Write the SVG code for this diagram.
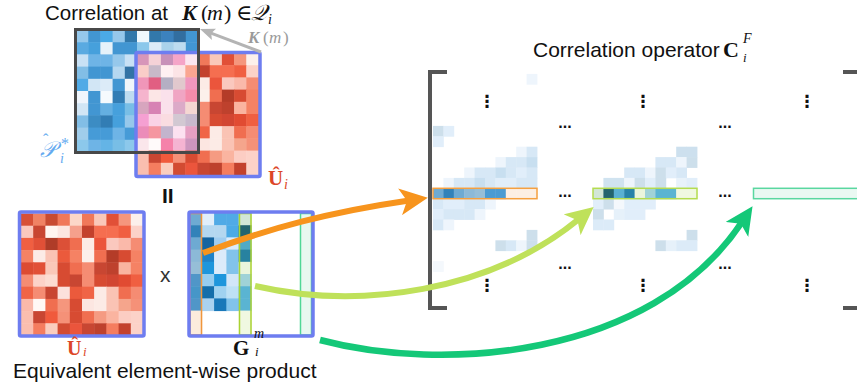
<svg xmlns="http://www.w3.org/2000/svg" width="857" height="387" viewBox="0 0 857 387">
<style>
.cell rect{width:1.04px;height:1.04px}
.sans{font-family:"Liberation Sans",Arial,sans-serif}
.math{font-family:"Liberation Serif","DejaVu Serif",serif}
.dots{font-family:"Liberation Sans",Arial,sans-serif;font-size:16px;font-weight:bold;text-anchor:middle;fill:#111}
.vdots{font-family:"DejaVu Sans",sans-serif;font-size:17px;font-weight:bold;text-anchor:middle;fill:#111}
.arrow{fill:none;stroke-linecap:butt}
</style>
<defs>
<marker id="hOrange" viewBox="0 0 28 27" refX="9" refY="13.5" markerWidth="28" markerHeight="27" markerUnits="userSpaceOnUse" orient="auto"><path d="M0,0 L28,13.5 L0,27 L7,13.5 z" fill="#f7941d"/></marker>
<marker id="hLime" viewBox="0 0 28 27" refX="9" refY="13.5" markerWidth="28" markerHeight="27" markerUnits="userSpaceOnUse" orient="auto"><path d="M0,0 L28,13.5 L0,27 L7,13.5 z" fill="#bfe15a"/></marker>
<marker id="hGreen" viewBox="0 0 28 27" refX="9" refY="13.5" markerWidth="28" markerHeight="27" markerUnits="userSpaceOnUse" orient="auto"><path d="M0,0 L28,13.5 L0,27 L7,13.5 z" fill="#14c878"/></marker>
<marker id="hGray" viewBox="0 0 15 12" refX="4" refY="6" markerWidth="15" markerHeight="12" markerUnits="userSpaceOnUse" orient="auto"><path d="M0,0 L15,6 L0,12 L3,6 z" fill="#b4b4b4"/></marker>
</defs>

<g id="title">
<text class="sans" x="45" y="20" font-size="20.5" fill="#111">Correlation at</text>
<text class="math" y="20" font-size="22" fill="#111"><tspan x="182" font-weight="bold" font-style="italic">K</tspan><tspan x="201">(</tspan><tspan x="207" font-style="italic">m</tspan><tspan x="224">)</tspan><tspan x="236">∈</tspan><tspan x="251" font-style="italic">𝒬</tspan><tspan x="268" dy="4" font-size="14" font-style="italic">i</tspan></text>
</g>

<g id="matrix-P">
<g class="cell" transform="translate(76,30) scale(12.2)">
<rect x="0" y="0" fill="#96c8eb"/><rect x="1" y="0" fill="#4296d2"/><rect x="2" y="0" fill="#4baae6"/><rect x="3" y="0" fill="#96c8eb"/><rect x="4" y="0" fill="#3278aa"/><rect x="5" y="0" fill="#f0f8fc"/><rect x="6" y="0" fill="#3278aa"/><rect x="7" y="0" fill="#3c82be"/><rect x="8" y="0" fill="#326ea0"/><rect x="9" y="0" fill="#4296d2"/>
<rect x="0" y="1" fill="#5aaae1"/><rect x="1" y="1" fill="#46a0dc"/><rect x="2" y="1" fill="#e6f2fa"/><rect x="3" y="1" fill="#4296d2"/><rect x="4" y="1" fill="#4296d2"/><rect x="5" y="1" fill="#8cc8eb"/><rect x="6" y="1" fill="#dcebf8"/><rect x="7" y="1" fill="#aad2eb"/><rect x="8" y="1" fill="#bedcf0"/><rect x="9" y="1" fill="#4296d2"/>
<rect x="0" y="2" fill="#c8e1f5"/><rect x="1" y="2" fill="#6eb4e6"/><rect x="2" y="2" fill="#6eb4e6"/><rect x="3" y="2" fill="#96c8eb"/><rect x="4" y="2" fill="#c8e1f5"/>
<rect x="0" y="3" fill="#82bee6"/><rect x="1" y="3" fill="#4296d2"/><rect x="2" y="3" fill="#4296d2"/><rect x="3" y="3" fill="#b4d7f0"/><rect x="4" y="3" fill="#3273a5"/>
<rect x="0" y="4" fill="#50aae6"/><rect x="1" y="4" fill="#d2e6f5"/><rect x="2" y="4" fill="#dcebf8"/><rect x="3" y="4" fill="#4296d2"/><rect x="4" y="4" fill="#f0f5fa"/>
<rect x="0" y="5" fill="#f0f5fc"/><rect x="1" y="5" fill="#4296d2"/><rect x="2" y="5" fill="#f5fafd"/><rect x="3" y="5" fill="#327db4"/><rect x="4" y="5" fill="#bedcf0"/>
<rect x="0" y="6" fill="#d2e6f5"/><rect x="1" y="6" fill="#4296d2"/><rect x="2" y="6" fill="#64afe1"/><rect x="3" y="6" fill="#46a0dc"/><rect x="4" y="6" fill="#78bee6"/>
<rect x="0" y="7" fill="#82bee6"/><rect x="1" y="7" fill="#3c8cc3"/><rect x="2" y="7" fill="#327db4"/><rect x="3" y="7" fill="#46a0dc"/><rect x="4" y="7" fill="#96c8eb"/>
<rect x="0" y="8" fill="#a0cdeb"/><rect x="1" y="8" fill="#469bd7"/><rect x="2" y="8" fill="#469bd7"/><rect x="3" y="8" fill="#6eb4e6"/><rect x="4" y="8" fill="#469bd7"/>
<rect x="0" y="9" fill="#8cc8eb"/><rect x="1" y="9" fill="#6eb4e6"/><rect x="2" y="9" fill="#64b4e6"/><rect x="3" y="9" fill="#78bee6"/><rect x="4" y="9" fill="#8cc8eb"/>
</g>
</g>

<g id="matrix-U-top">
<g class="cell" transform="translate(136.5,53) scale(12.2)">
<rect x="0" y="0" fill="#d796b9"/><rect x="1" y="0" fill="#f5d2d7"/><rect x="2" y="0" fill="#c891b9"/><rect x="3" y="0" fill="#f5a5c8"/><rect x="4" y="0" fill="#fce6f0"/><rect x="5" y="0" fill="#f0785a"/><rect x="6" y="0" fill="#fac8b9"/><rect x="7" y="0" fill="#e15037"/><rect x="8" y="0" fill="#f5967d"/><rect x="9" y="0" fill="#fcf0eb"/>
<rect x="0" y="1" fill="#facdc8"/><rect x="1" y="1" fill="#c8b9c8"/><rect x="2" y="1" fill="#fff0f2"/><rect x="3" y="1" fill="#fce4e6"/><rect x="4" y="1" fill="#faa591"/><rect x="5" y="1" fill="#c3412d"/><rect x="6" y="1" fill="#f56e50"/><rect x="7" y="1" fill="#f56e50"/><rect x="8" y="1" fill="#f05f41"/><rect x="9" y="1" fill="#fcd2c8"/>
<rect x="0" y="2" fill="#f096b9"/><rect x="1" y="2" fill="#e15f82"/><rect x="2" y="2" fill="#b4afc3"/><rect x="3" y="2" fill="#e1c8cd"/><rect x="4" y="2" fill="#f096be"/><rect x="5" y="2" fill="#fcebe6"/><rect x="6" y="2" fill="#eb553c"/><rect x="7" y="2" fill="#fac8be"/><rect x="8" y="2" fill="#fab9aa"/><rect x="9" y="2" fill="#f58c73"/>
<rect x="0" y="3" fill="#f5b4cd"/><rect x="1" y="3" fill="#fce6e6"/><rect x="2" y="3" fill="#fae1eb"/><rect x="3" y="3" fill="#f0a5c3"/><rect x="4" y="3" fill="#f58caa"/><rect x="5" y="3" fill="#fcf0eb"/><rect x="6" y="3" fill="#f06e50"/><rect x="7" y="3" fill="#b43c28"/><rect x="8" y="3" fill="#d74b32"/><rect x="9" y="3" fill="#f58264"/>
<rect x="0" y="4" fill="#d7a5be"/><rect x="1" y="4" fill="#d782b4"/><rect x="2" y="4" fill="#fae1eb"/><rect x="3" y="4" fill="#dcaac8"/><rect x="4" y="4" fill="#f5d7d2"/><rect x="5" y="4" fill="#f58c73"/><rect x="6" y="4" fill="#c84632"/><rect x="7" y="4" fill="#be412d"/><rect x="8" y="4" fill="#fab4a0"/><rect x="9" y="4" fill="#f58264"/>
<rect x="0" y="5" fill="#f5a0d2"/><rect x="1" y="5" fill="#fad2e6"/><rect x="2" y="5" fill="#fadce1"/><rect x="3" y="5" fill="#d2c8d2"/><rect x="4" y="5" fill="#c8b9cd"/><rect x="5" y="5" fill="#f58c73"/><rect x="6" y="5" fill="#d74b32"/><rect x="7" y="5" fill="#d24632"/><rect x="8" y="5" fill="#e14b32"/><rect x="9" y="5" fill="#f05f41"/>
<rect x="0" y="6" fill="#eb8cb9"/><rect x="1" y="6" fill="#f596a0"/><rect x="2" y="6" fill="#c3b4cd"/><rect x="3" y="6" fill="#fce1f0"/><rect x="4" y="6" fill="#e6a0c3"/><rect x="5" y="6" fill="#f06446"/><rect x="6" y="6" fill="#fcebe6"/><rect x="7" y="6" fill="#fac3b4"/><rect x="8" y="6" fill="#f06e50"/><rect x="9" y="6" fill="#f58c73"/>
<rect x="0" y="7" fill="#fae6eb"/><rect x="1" y="7" fill="#fffafa"/><rect x="2" y="7" fill="#f582aa"/><rect x="3" y="7" fill="#f5b4d2"/><rect x="4" y="7" fill="#cd96be"/><rect x="5" y="7" fill="#fce6e1"/><rect x="6" y="7" fill="#fcebe6"/><rect x="7" y="7" fill="#fac3b4"/><rect x="8" y="7" fill="#f5a58c"/><rect x="9" y="7" fill="#f59178"/>
<rect x="0" y="8" fill="#fabeaf"/><rect x="1" y="8" fill="#c84632"/><rect x="2" y="8" fill="#f05a3c"/><rect x="3" y="8" fill="#f59178"/><rect x="4" y="8" fill="#d74b32"/><rect x="5" y="8" fill="#f06e50"/><rect x="6" y="8" fill="#f59b82"/><rect x="7" y="8" fill="#fab4a0"/><rect x="8" y="8" fill="#fccdc3"/><rect x="9" y="8" fill="#fcd2c8"/>
<rect x="0" y="9" fill="#fabeaf"/><rect x="1" y="9" fill="#f57d5f"/><rect x="2" y="9" fill="#facdbe"/><rect x="3" y="9" fill="#d24b32"/><rect x="4" y="9" fill="#eb553c"/><rect x="5" y="9" fill="#c84632"/><rect x="6" y="9" fill="#be412d"/><rect x="7" y="9" fill="#f57d5f"/><rect x="8" y="9" fill="#c3412d"/><rect x="9" y="9" fill="#fcd2c8"/>
</g>
<rect x="136" y="52.5" width="124" height="124" rx="1.5" fill="none" stroke="#6e7df0" stroke-width="3.5"/>
<rect x="75.5" y="29.5" width="123" height="123" fill="none" stroke="#484848" stroke-width="3"/>
</g>

<g id="labels-top">
<text class="math" font-size="22" fill="#64aaf0"><tspan x="40" y="157" font-style="italic">𝒫</tspan><tspan x="60" y="163" font-size="14" font-style="italic">i</tspan><tspan x="61" y="149" font-size="16">*</tspan></text>
<text class="math" x="43" y="145" font-size="16" fill="#64aaf0">ˆ</text>
<text class="math" font-size="21" fill="#dc4628"><tspan x="268" y="185" font-weight="bold">Û</tspan><tspan x="284" y="189" font-size="14" font-style="italic">i</tspan></text>
<text class="math" font-size="17" fill="#9a9a9a" y="43"><tspan x="248" font-weight="bold" font-style="italic">K</tspan><tspan x="263">(</tspan><tspan x="269" font-style="italic">m</tspan><tspan x="283">)</tspan></text>
<text class="sans" x="162" y="203" font-size="21" font-weight="bold" fill="#111">II</text>
</g>

<g id="matrix-U">
<g class="cell" transform="translate(21,213.5) scale(12.2)">
<rect x="0" y="0" fill="#d75037"/><rect x="1" y="0" fill="#f08264"/><rect x="2" y="0" fill="#c84b32"/><rect x="3" y="0" fill="#f0785a"/><rect x="4" y="0" fill="#fcd7c8"/><rect x="5" y="0" fill="#f0785a"/><rect x="6" y="0" fill="#fac8b9"/><rect x="7" y="0" fill="#e15037"/><rect x="8" y="0" fill="#f5967d"/><rect x="9" y="0" fill="#fcf0eb"/>
<rect x="0" y="1" fill="#fac8be"/><rect x="1" y="1" fill="#c84632"/><rect x="2" y="1" fill="#fff5f0"/><rect x="3" y="1" fill="#fce6e1"/><rect x="4" y="1" fill="#f5a08c"/><rect x="5" y="1" fill="#c3412d"/><rect x="6" y="1" fill="#f56e50"/><rect x="7" y="1" fill="#f56e50"/><rect x="8" y="1" fill="#f05f41"/><rect x="9" y="1" fill="#fcd2c8"/>
<rect x="0" y="2" fill="#f05f41"/><rect x="1" y="2" fill="#e15037"/><rect x="2" y="2" fill="#af3c28"/><rect x="3" y="2" fill="#dc5037"/><rect x="4" y="2" fill="#f06e50"/><rect x="5" y="2" fill="#fcebe6"/><rect x="6" y="2" fill="#eb553c"/><rect x="7" y="2" fill="#fac8be"/><rect x="8" y="2" fill="#fab9aa"/><rect x="9" y="2" fill="#f58c73"/>
<rect x="0" y="3" fill="#f58264"/><rect x="1" y="3" fill="#fcebe6"/><rect x="2" y="3" fill="#fac3b4"/><rect x="3" y="3" fill="#eb5a3c"/><rect x="4" y="3" fill="#f58264"/><rect x="5" y="3" fill="#fcf0eb"/><rect x="6" y="3" fill="#f06e50"/><rect x="7" y="3" fill="#b43c28"/><rect x="8" y="3" fill="#d74b32"/><rect x="9" y="3" fill="#f58264"/>
<rect x="0" y="4" fill="#dc4b32"/><rect x="1" y="4" fill="#e15037"/><rect x="2" y="4" fill="#fac8b9"/><rect x="3" y="4" fill="#d74b32"/><rect x="4" y="4" fill="#f06e50"/><rect x="5" y="4" fill="#f58c73"/><rect x="6" y="4" fill="#c84632"/><rect x="7" y="4" fill="#be412d"/><rect x="8" y="4" fill="#fab4a0"/><rect x="9" y="4" fill="#f58264"/>
<rect x="0" y="5" fill="#f58c73"/><rect x="1" y="5" fill="#fcd2c8"/><rect x="2" y="5" fill="#fcdcd2"/><rect x="3" y="5" fill="#d74b32"/><rect x="4" y="5" fill="#c84632"/><rect x="5" y="5" fill="#f58c73"/><rect x="6" y="5" fill="#d74b32"/><rect x="7" y="5" fill="#d24632"/><rect x="8" y="5" fill="#e14b32"/><rect x="9" y="5" fill="#f05f41"/>
<rect x="0" y="6" fill="#f06446"/><rect x="1" y="6" fill="#f58c73"/><rect x="2" y="6" fill="#c84632"/><rect x="3" y="6" fill="#fce1dc"/><rect x="4" y="6" fill="#eb5a3c"/><rect x="5" y="6" fill="#f06446"/><rect x="6" y="6" fill="#fcebe6"/><rect x="7" y="6" fill="#fac3b4"/><rect x="8" y="6" fill="#f06e50"/><rect x="9" y="6" fill="#f58c73"/>
<rect x="0" y="7" fill="#fab9aa"/><rect x="1" y="7" fill="#fff8f5"/><rect x="2" y="7" fill="#f06e50"/><rect x="3" y="7" fill="#f5967d"/><rect x="4" y="7" fill="#d74b32"/><rect x="5" y="7" fill="#fce6e1"/><rect x="6" y="7" fill="#fcebe6"/><rect x="7" y="7" fill="#fac3b4"/><rect x="8" y="7" fill="#f5a58c"/><rect x="9" y="7" fill="#f59178"/>
<rect x="0" y="8" fill="#fabeaf"/><rect x="1" y="8" fill="#c84632"/><rect x="2" y="8" fill="#f05a3c"/><rect x="3" y="8" fill="#f59178"/><rect x="4" y="8" fill="#d74b32"/><rect x="5" y="8" fill="#f06e50"/><rect x="6" y="8" fill="#f59b82"/><rect x="7" y="8" fill="#fab4a0"/><rect x="8" y="8" fill="#fccdc3"/><rect x="9" y="8" fill="#fcd2c8"/>
<rect x="0" y="9" fill="#fabeaf"/><rect x="1" y="9" fill="#f57d5f"/><rect x="2" y="9" fill="#facdbe"/><rect x="3" y="9" fill="#d24b32"/><rect x="4" y="9" fill="#eb553c"/><rect x="5" y="9" fill="#c84632"/><rect x="6" y="9" fill="#be412d"/><rect x="7" y="9" fill="#f57d5f"/><rect x="8" y="9" fill="#c3412d"/><rect x="9" y="9" fill="#fcd2c8"/>
</g>
<rect x="19.5" y="212" width="124.5" height="124" rx="1.5" fill="none" stroke="#6e7df0" stroke-width="3.5"/>
<text class="math" font-size="20" fill="#dc4628"><tspan x="67" y="355" font-weight="bold">Û</tspan><tspan x="83" y="356" font-size="13" font-style="italic">i</tspan></text>
</g>

<text id="times" class="sans" x="160" y="282" font-size="21" fill="#333">x</text>

<g id="matrix-G">
<g class="cell" transform="translate(189.5,213) scale(12.3,12.2)">
<rect x="0" y="0" fill="#6eaad2"/><rect x="0" y="1" fill="#3282b9"/><rect x="0" y="2" fill="#6eaad2"/><rect x="0" y="3" fill="#8cb9d7"/><rect x="0" y="4" fill="#96bed7"/><rect x="0" y="5" fill="#5096c8"/><rect x="0" y="6" fill="#4696c8"/><rect x="0" y="7" fill="#5096c8"/><rect x="0" y="8" fill="#fcebdc"/><rect x="0" y="9" fill="#fcebdc"/>
<rect x="1" y="0" fill="#e1eefa"/><rect x="1" y="1" fill="#b4d7f0"/><rect x="1" y="2" fill="#1464a0"/><rect x="1" y="3" fill="#1e82c8"/><rect x="1" y="4" fill="#1e96dc"/><rect x="1" y="5" fill="#96cdf0"/><rect x="1" y="6" fill="#146eaa"/><rect x="1" y="7" fill="#aad2f0"/>
<rect x="2" y="0" fill="#50aae6"/><rect x="2" y="1" fill="#b4d7f0"/><rect x="2" y="2" fill="#a0cdf0"/><rect x="2" y="3" fill="#dcebfa"/><rect x="2" y="4" fill="#dcebfa"/><rect x="2" y="5" fill="#1e96dc"/><rect x="2" y="6" fill="#a0d2f0"/><rect x="2" y="7" fill="#1978b9"/>
<rect x="3" y="0" fill="#50aae6"/><rect x="3" y="1" fill="#4baae6"/><rect x="3" y="2" fill="#dcebfa"/><rect x="3" y="3" fill="#82c3eb"/><rect x="3" y="4" fill="#82c3eb"/><rect x="3" y="5" fill="#d2e6f8"/><rect x="3" y="6" fill="#bee1f5"/><rect x="3" y="7" fill="#82c3eb"/>
<rect x="4" y="0" fill="#d2e6d7"/><rect x="4" y="1" fill="#23646e"/><rect x="4" y="2" fill="#50aac8"/><rect x="4" y="3" fill="#2882a0"/><rect x="4" y="4" fill="#ebf5dc"/><rect x="4" y="5" fill="#a0d2d7"/><rect x="4" y="6" fill="#5ab4d2"/><rect x="4" y="7" fill="#5ab4d2"/><rect x="4" y="8" fill="#f0f8e1"/><rect x="4" y="9" fill="#f0f8e1"/>
</g>
<rect x="190" y="213.5" width="11.5" height="121.5" fill="none" stroke="#f0963c" stroke-width="1.5"/>
<rect x="239.5" y="213.5" width="11.5" height="121.5" fill="none" stroke="#aad232" stroke-width="1.5"/>
<rect x="300.5" y="213.5" width="11" height="121.5" fill="#e8f8f0" stroke="#50d796" stroke-width="1.5"/>
<rect x="189" y="212" width="124" height="124" rx="1.5" fill="none" stroke="#6e7df0" stroke-width="3.5"/>
<text class="math" font-size="21" fill="#111"><tspan x="233" y="355" font-weight="bold">G</tspan><tspan x="254" y="338" font-size="14" font-style="italic">m</tspan><tspan x="255" y="356" font-size="13" font-style="italic">i</tspan></text>
</g>

<text id="caption" class="sans" x="13" y="378" font-size="21" fill="#111">Equivalent element-wise product</text>

<g id="operator">
<text class="sans" x="533" y="57" font-size="21" fill="#111">Correlation operator</text>
<text class="math" font-size="22" fill="#111"><tspan x="723" y="57" font-weight="bold">C</tspan><tspan x="743" y="43" font-size="14" font-style="italic">F</tspan><tspan x="743" y="62" font-size="13" font-style="italic">i</tspan></text>
<path d="M447,72 L430,72 L430,308 L447,308" fill="none" stroke="#555" stroke-width="4"/>
<path d="M843,72 L859,72 L859,308 L843,308" fill="none" stroke="#555" stroke-width="4"/>
<g class="cell" transform="translate(433,188.3) scale(10.4)">
<rect x="9" y="-11" fill="#eef5fc"/>
<rect x="0" y="-6" fill="#cddfeb"/><rect x="1" y="-6" fill="#e1eefa"/>
<rect x="0" y="-5" fill="#e1eefa"/>
<rect x="8" y="-4" fill="#eef5fc"/><rect x="9" y="-4" fill="#d7e8f6"/>
<rect x="6" y="-3" fill="#eef5fc"/><rect x="7" y="-3" fill="#d7e8f6"/><rect x="8" y="-3" fill="#d7e8f6"/><rect x="9" y="-3" fill="#c8dff0"/>
<rect x="3" y="-2" fill="#eef5fc"/><rect x="4" y="-2" fill="#d7e8f6"/><rect x="5" y="-2" fill="#d7e8f6"/><rect x="6" y="-2" fill="#c8dff0"/><rect x="7" y="-2" fill="#d7e8f6"/><rect x="8" y="-2" fill="#e1eefa"/><rect x="9" y="-2" fill="#d7e8f6"/>
<rect x="1" y="-1" fill="#eef5fc"/><rect x="2" y="-1" fill="#d7e8f6"/><rect x="3" y="-1" fill="#d7e8f6"/><rect x="4" y="-1" fill="#c8dff0"/><rect x="5" y="-1" fill="#d7e8f6"/><rect x="6" y="-1" fill="#e1eefa"/><rect x="7" y="-1" fill="#e1eefa"/><rect x="8" y="-1" fill="#d7e8f6"/><rect x="9" y="-1" fill="#d7e8f6"/>
<rect x="0" y="0" fill="#6eaad2"/><rect x="1" y="0" fill="#3282b9"/><rect x="2" y="0" fill="#6eaad2"/><rect x="3" y="0" fill="#8cb9d7"/><rect x="4" y="0" fill="#96bed7"/><rect x="5" y="0" fill="#4b9bd2"/><rect x="6" y="0" fill="#4b9bd2"/><rect x="7" y="0" fill="#fcefe4"/><rect x="8" y="0" fill="#fcefe4"/><rect x="9" y="0" fill="#fcefe4"/>
<rect x="0" y="1" fill="#d7e8f6"/><rect x="1" y="1" fill="#e1eefa"/><rect x="2" y="1" fill="#e1eefa"/><rect x="3" y="1" fill="#d7e8f6"/><rect x="4" y="1" fill="#d7e8f6"/><rect x="5" y="1" fill="#eef5fc"/>
<rect x="0" y="2" fill="#e1eefa"/><rect x="1" y="2" fill="#d7e8f6"/><rect x="2" y="2" fill="#d7e8f6"/><rect x="3" y="2" fill="#d7e8f6"/><rect x="4" y="2" fill="#eef5fc"/>
<rect x="0" y="3" fill="#d7e8f6"/><rect x="1" y="3" fill="#eef5fc"/>
<rect x="9" y="4" fill="#cddfeb"/>
<rect x="6" y="5" fill="#cddfeb"/><rect x="7" y="5" fill="#d7e8f6"/><rect x="8" y="5" fill="#eef5fc"/><rect x="9" y="5" fill="#cddfeb"/>
<rect x="0" y="7" fill="#f4f8fc"/>
</g>
<g class="cell" transform="translate(593,188.3) scale(10.4)">
<rect x="8" y="-4" fill="#cde0ee"/><rect x="9" y="-4" fill="#cde0ee"/>
<rect x="6" y="-3" fill="#d7e8f6"/><rect x="7" y="-3" fill="#d7e8f6"/><rect x="8" y="-3" fill="#eef5fc"/><rect x="9" y="-3" fill="#cddfeb"/>
<rect x="3" y="-2" fill="#d7e8f6"/><rect x="4" y="-2" fill="#d7e8f6"/><rect x="5" y="-2" fill="#eef5fc"/><rect x="6" y="-2" fill="#cddfeb"/><rect x="7" y="-2" fill="#e1eefa"/><rect x="8" y="-2" fill="#d7e8f6"/>
<rect x="1" y="-1" fill="#d0e3f0"/><rect x="2" y="-1" fill="#d0e3f0"/><rect x="3" y="-1" fill="#eef5fc"/><rect x="4" y="-1" fill="#cddfeb"/><rect x="5" y="-1" fill="#e1eefa"/><rect x="6" y="-1" fill="#cddfeb"/><rect x="8" y="-1" fill="#e8f2fa"/><rect x="9" y="-1" fill="#e1eefa"/>
<rect x="0" y="0" fill="#d2e6d7"/><rect x="1" y="0" fill="#23646e"/><rect x="2" y="0" fill="#5ab0d2"/><rect x="3" y="0" fill="#2882a8"/><rect x="4" y="0" fill="#ebf5dc"/><rect x="5" y="0" fill="#a0d2d7"/><rect x="6" y="0" fill="#5ab4d2"/><rect x="7" y="0" fill="#5ab4d2"/><rect x="8" y="0" fill="#f0f8e1"/><rect x="9" y="0" fill="#f0f8e1"/>
<rect x="0" y="1" fill="#e1eefa"/><rect x="1" y="1" fill="#cddfeb"/><rect x="2" y="1" fill="#f4f8fc"/><rect x="3" y="1" fill="#e1eefa"/><rect x="4" y="1" fill="#e1eefa"/><rect x="5" y="1" fill="#e1eefa"/>
<rect x="0" y="2" fill="#cddfeb"/><rect x="2" y="2" fill="#e6f1fa"/><rect x="3" y="2" fill="#e1eefa"/><rect x="4" y="2" fill="#e1eefa"/>
<rect x="0" y="3" fill="#dcebf8"/><rect x="1" y="3" fill="#dcebf8"/>
<rect x="9" y="4" fill="#cddfeb"/>
<rect x="6" y="5" fill="#cddfeb"/><rect x="7" y="5" fill="#e6f1fa"/><rect x="8" y="5" fill="#dcebf8"/><rect x="9" y="5" fill="#dcebf8"/>
</g>
<rect x="433" y="188.3" width="104" height="10.4" fill="none" stroke="#f5a040" stroke-width="1.5"/>
<rect x="593" y="188.3" width="104" height="10.4" fill="none" stroke="#b4dc50" stroke-width="1.5"/>
<rect x="753.5" y="188.3" width="110" height="10.4" fill="#eaf8f2" stroke="#5ad7a0" stroke-width="1.5"/>
<text class="vdots" x="487" y="107">⋮</text><text class="vdots" x="643" y="107">⋮</text><text class="vdots" x="807" y="107">⋮</text>
<text class="vdots" x="487" y="291">⋮</text><text class="vdots" x="643" y="291">⋮</text><text class="vdots" x="807" y="291">⋮</text>
<text class="dots" x="565" y="128">...</text><text class="dots" x="725" y="128">...</text>
<text class="dots" x="565" y="197">...</text><text class="dots" x="725" y="197">...</text>
<text class="dots" x="565" y="269">...</text><text class="dots" x="725" y="269">...</text>
</g>

<g id="connectors">
<path class="arrow" d="M261,52 L210.3,32.9" stroke="#b4b4b4" stroke-width="3" marker-end="url(#hGray)"/>
<path class="arrow" d="M203,253 C270,228 330,212 409,200.5" stroke="#f7941d" stroke-width="6" marker-end="url(#hOrange)"/>
<path class="arrow" d="M255,286 C360,310 490,292 579,219" stroke="#bfe15a" stroke-width="6" marker-end="url(#hLime)"/>
<path class="arrow" d="M320,340 C440,372 650,360 742,222" stroke="#14c878" stroke-width="6.5" marker-end="url(#hGreen)"/>
</g>
</svg>
